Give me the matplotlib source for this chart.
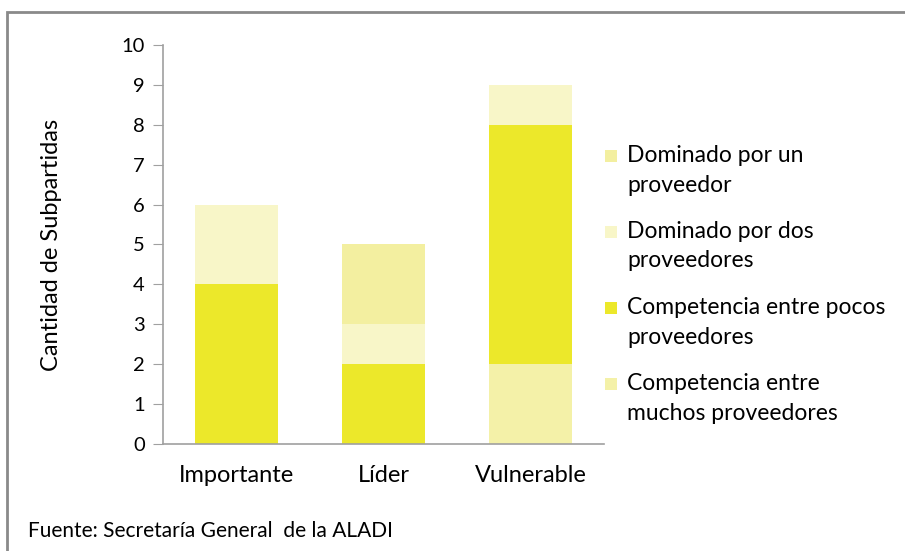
import matplotlib.pyplot as plt
import numpy as np
from matplotlib.patches import Rectangle

plt.rcParams['font.family'] = ['Lato', 'DejaVu Sans']

# Datos
categorias = ['Importante', 'Líder', 'Vulnerable']
muchos = [0, 0, 2]
pocos = [4, 2, 6]
dos = [2, 1, 1]
un = [0, 2, 0]

series = [
    ('Competencia entre\nmuchos proveedores', muchos, '#F4F1A8'),
    ('Competencia entre pocos\nproveedores', pocos, '#ECE82A'),
    ('Dominado por dos\nproveedores', dos, '#F8F6C8'),
    ('Dominado por un\nproveedor', un, '#F3EFA0'),
]

W, H = 905, 551
fig = plt.figure(figsize=(W / 100, H / 100), dpi=100)
ax = fig.add_axes([163 / W, 1 - 444 / H, 441 / W, 399 / H])

x = np.arange(len(categorias))
bottom = np.zeros(len(categorias))
for label, vals, color in series:
    ax.bar(x, vals, width=0.57, bottom=bottom, color=color, label=label)
    bottom += np.array(vals)

ax.set_xlim(-0.5, 2.5)
ax.set_ylim(0, 10)
ax.set_yticks(range(0, 11))
ax.set_xticks(x)
ax.set_xticklabels(categorias)
ax.tick_params(axis='y', labelsize=14.5, length=7, color='#A0A0A0', pad=6)
ax.tick_params(axis='x', labelsize=17, length=0, pad=15)
for s in ['top', 'right']:
    ax.spines[s].set_visible(False)
for s in ['left', 'bottom']:
    ax.spines[s].set_color('#A0A0A0')
    ax.spines[s].set_linewidth(1.2)
ax.set_ylabel('Cantidad de Subpartidas', fontsize=17)
ax.yaxis.set_label_coords(-0.23, 0.5)

# Leyenda manual (orden invertido, cuadro alineado con la primera línea)
for i, (label, vals, color) in enumerate(series[::-1]):
    y0 = 156 + 76 * i
    fig.add_artist(Rectangle((605 / W, 1 - (y0 + 6) / H), 12 / W, 12 / H,
                             transform=fig.transFigure, facecolor=color,
                             edgecolor='none'))
    for j, line in enumerate(label.split('\n')):
        fig.text(627 / W, 1 - (y0 + 29 * j) / H, line, fontsize=16.5,
                 va='center', ha='left')

fig.text(28 / W, 1 - 531 / H, 'Fuente: Secretaría General  de la ALADI',
         fontsize=15, va='center', ha='left')

# Marco
fig.patches.append(Rectangle((7 / W, -0.1), 1.0, 1 - 12 / H + 0.1,
                             transform=fig.transFigure, fill=False,
                             edgecolor='#8A8A8A', linewidth=2))

fig.savefig('out.png', dpi=100)
